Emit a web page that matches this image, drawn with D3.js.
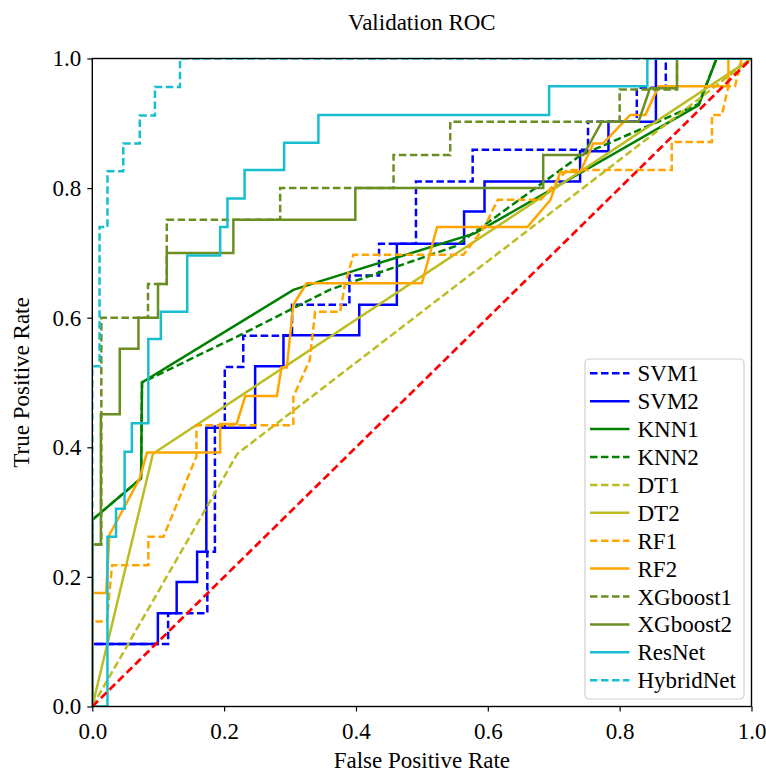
<!DOCTYPE html>
<html>
<head>
<meta charset="utf-8">
<script src="https://cdn.jsdelivr.net/npm/d3@7"></script>
<style>
  html, body { margin: 0; padding: 0; background: #fff; }
  svg { display: block; }
  text { font-family: "Liberation Serif", "Times New Roman", serif; fill: #000; }
</style>
</head>
<body>
<svg id="chart" width="766" height="774"></svg>
<script>
// ---------------- data ----------------
const title = "Validation ROC";
const xLabel = "False Positive Rate";
const yLabel = "True Positive Rate";
const tickValues = [0, 0.2, 0.4, 0.6, 0.8, 1.0];

const svm1 = [[0,0],[0,0.0965],[0.115,0.0965],[0.115,0.144],[0.1745,0.144],[0.1745,0.239],[0.186,0.239],[0.186,0.432],[0.201,0.432],[0.201,0.524],[0.229,0.524],[0.229,0.572],[0.303,0.572],[0.303,0.62],[0.39,0.62],[0.39,0.665],[0.435,0.665],[0.435,0.714],[0.491,0.714],[0.491,0.81],[0.577,0.81],[0.577,0.859],[0.752,0.859],[0.752,0.9025],[0.826,0.9025],[0.826,0.955],[0.870,0.955],[0.870,1.0],[1,1]];
const svm2 = [[0,0],[0,0.0965],[0.0995,0.0965],[0.0995,0.144],[0.128,0.144],[0.128,0.192],[0.159,0.192],[0.159,0.239],[0.173,0.239],[0.173,0.430],[0.247,0.430],[0.247,0.525],[0.29,0.525],[0.29,0.573],[0.405,0.573],[0.405,0.62],[0.462,0.62],[0.462,0.714],[0.564,0.714],[0.564,0.764],[0.595,0.764],[0.595,0.81],[0.74,0.81],[0.74,0.857],[0.783,0.857],[0.783,0.9025],[0.855,0.9025],[0.855,1.0],[1,1]];
const knn1 = [[0,0],[0,0.288],[0.074,0.352],[0.0754,0.50],[0.305,0.643],[0.345,0.656],[0.58,0.73],[0.92,0.928],[0.947,1.0],[1,1]];
const knn2 = [[0,0],[0,0.288],[0.074,0.352],[0.0754,0.50],[0.224,0.573],[0.36,0.643],[0.55,0.71],[0.74,0.85],[0.92,0.93],[0.947,1.0],[1,1]];
const dt1 = [[0,0],[0.22,0.39],[1,1]];
const dt2 = [[0,0],[0.092,0.39],[1,1]];
const rf1 = [[0,0],[0,0.131],[0.022,0.131],[0.03,0.218],[0.085,0.218],[0.085,0.262],[0.108,0.262],[0.158,0.386],[0.158,0.434],[0.305,0.434],[0.305,0.478],[0.33,0.535],[0.338,0.609],[0.376,0.609],[0.383,0.65],[0.396,0.697],[0.563,0.697],[0.595,0.74],[0.615,0.782],[0.68,0.782],[0.72,0.828],[0.879,0.828],[0.879,0.871],[0.94,0.871],[0.94,0.913],[0.955,0.913],[0.965,0.957],[0.975,0.957],[0.985,1.0],[1,1]];
const rf2 = [[0,0],[0,0.175],[0.021,0.175],[0.026,0.265],[0.072,0.352],[0.083,0.392],[0.194,0.392],[0.194,0.436],[0.219,0.436],[0.232,0.479],[0.28,0.479],[0.287,0.523],[0.295,0.523],[0.305,0.62],[0.325,0.653],[0.50,0.653],[0.523,0.74],[0.66,0.74],[0.695,0.782],[0.71,0.825],[0.74,0.825],[0.76,0.869],[0.775,0.869],[0.816,0.913],[0.839,0.913],[0.859,0.957],[0.965,0.957],[0.965,1.0],[1,1]];
const xgb1 = [[0,0],[0,0.25],[0.0137,0.25],[0.0137,0.60],[0.0845,0.60],[0.0845,0.652],[0.113,0.652],[0.113,0.751],[0.285,0.751],[0.285,0.80],[0.457,0.80],[0.457,0.851],[0.543,0.851],[0.543,0.9025],[0.80,0.9025],[0.80,0.952],[0.887,0.952],[0.887,1.0],[1,1]];
const xgb2 = [[0,0],[0,0.25],[0.013,0.25],[0.013,0.451],[0.0416,0.451],[0.0416,0.552],[0.070,0.552],[0.070,0.60],[0.0997,0.60],[0.0997,0.652],[0.113,0.652],[0.113,0.70],[0.214,0.70],[0.214,0.751],[0.399,0.751],[0.399,0.80],[0.684,0.80],[0.684,0.851],[0.745,0.851],[0.773,0.9025],[0.8286,0.9025],[0.846,0.954],[0.887,0.954],[0.887,1.0],[1,1]];
const resnet = [[0,0],[0.023,0],[0.023,0.262],[0.036,0.262],[0.036,0.305],[0.049,0.305],[0.049,0.393],[0.06,0.393],[0.06,0.437],[0.085,0.437],[0.085,0.567],[0.104,0.567],[0.104,0.609],[0.144,0.609],[0.144,0.696],[0.194,0.696],[0.194,0.740],[0.205,0.740],[0.205,0.784],[0.231,0.784],[0.231,0.828],[0.291,0.828],[0.291,0.870],[0.343,0.870],[0.343,0.913],[0.693,0.913],[0.693,0.957],[0.842,0.957],[0.842,1.0],[1,1]];
const hybridnet = [[0,0],[0,0.525],[0.011,0.525],[0.011,0.74],[0.023,0.74],[0.023,0.826],[0.047,0.826],[0.047,0.869],[0.072,0.869],[0.072,0.912],[0.095,0.912],[0.095,0.956],[0.133,0.956],[0.133,1.0],[1,1]];
const chance = [[0,0],[1,1]];

const seriesNames  = ["SVM1","SVM2","KNN1","KNN2","DT1","DT2","RF1","RF2","XGboost1","XGboost2","ResNet","HybridNet"];
const seriesData   = [svm1, svm2, knn1, knn2, dt1, dt2, rf1, rf2, xgb1, xgb2, resnet, hybridnet];
const seriesColors = ["#0000ff","#0000ff","#008000","#008000","#bcbd22","#bcbd22","#ffa500","#ffa500","#6b8e23","#6b8e23","#17becf","#17becf"];
const seriesDashed = [true,false,false,true,true,false,true,false,true,false,false,true];

// ---------------- layout ----------------
const svg = d3.select("#chart");
const L = 92.3, R = 751.5, T = 58.5, B = 706.5;
const x = d3.scaleLinear().domain([0,1]).range([L,R]);
const y = d3.scaleLinear().domain([0,1]).range([B,T]);

svg.append("defs").append("clipPath").attr("id","clip")
  .append("rect").attr("x",L).attr("y",T).attr("width",R-L).attr("height",B-T);

const line = d3.line().x(d => x(d[0])).y(d => y(d[1]));
const plot = svg.append("g").attr("clip-path","url(#clip)");

seriesData.forEach((s,i) => {
  plot.append("path").datum(s)
    .attr("d", line)
    .attr("fill","none")
    .attr("stroke", seriesColors[i])
    .attr("stroke-width", 2.5)
    .attr("stroke-linejoin","miter")
    .attr("stroke-dasharray", seriesDashed[i] ? "7.5,3.5" : null);
});
plot.append("path").datum(chance)
  .attr("d", line).attr("fill","none")
  .attr("stroke","#ff0000").attr("stroke-width",2.7)
  .attr("stroke-dasharray","8,4");

// axes
const fmt = d3.format(".1f");
const xAxis = svg.append("g").attr("transform",`translate(0,${B})`)
  .call(d3.axisBottom(x).tickValues(tickValues).tickFormat(fmt).tickSize(5).tickPadding(6));
const yAxis = svg.append("g").attr("transform",`translate(${L},0)`)
  .call(d3.axisLeft(y).tickValues(tickValues).tickFormat(fmt).tickSize(5).tickPadding(6));
[xAxis,yAxis].forEach(a => {
  a.select(".domain").remove();
  a.selectAll(".tick line").attr("stroke","#000").attr("stroke-width",1.2);
  a.selectAll(".tick text").style("font-family","'Liberation Serif', serif").style("font-size","23px").attr("fill","#000");
});
xAxis.selectAll(".tick text").attr("dy","0.95em");

// frame
svg.append("rect").attr("x",L).attr("y",T).attr("width",R-L).attr("height",B-T)
  .attr("fill","none").attr("stroke","#000").attr("stroke-width",1.4);

// title & labels
svg.append("text").attr("x",(L+R)/2).attr("y",30).attr("text-anchor","middle")
  .style("font-size","23px").text(title);
svg.append("text").attr("x",(L+R)/2).attr("y",768).attr("text-anchor","middle")
  .style("font-size","23px").text(xLabel);
svg.append("text").attr("transform",`translate(29,${(T+B)/2}) rotate(-90)`).attr("text-anchor","middle")
  .style("font-size","23px").text(yLabel);

// legend
const lg = svg.append("g");
lg.append("rect").attr("x",585).attr("y",359).attr("width",159).attr("height",340)
  .attr("rx",4).attr("fill","#fff").attr("fill-opacity",0.85).attr("stroke","#d0d0d0").attr("stroke-width",1.2);
seriesNames.forEach((n,i) => {
  const yy = 373.3 + i*27.9;
  lg.append("line").attr("x1",590).attr("x2",629.5).attr("y1",yy).attr("y2",yy)
    .attr("stroke",seriesColors[i]).attr("stroke-width",2.5)
    .attr("stroke-dasharray", seriesDashed[i] ? "7.5,3.5" : null);
  lg.append("text").attr("x",637.5).attr("y",yy).attr("dy","0.35em")
    .style("font-size","23px").text(n);
});
</script>
</body>
</html>
